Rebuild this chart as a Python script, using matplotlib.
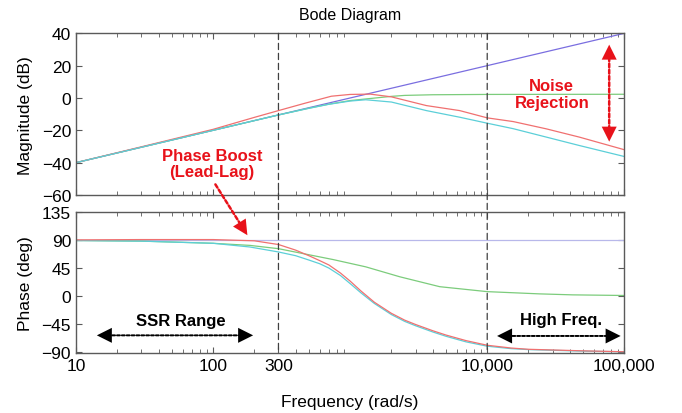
import numpy as np
import matplotlib
matplotlib.use('Agg')
from matplotlib import pyplot as plt
from matplotlib.patches import ConnectionPatch
from matplotlib.ticker import FixedLocator, LogLocator, NullFormatter

plt.rcParams['font.family'] = ['Liberation Sans', 'DejaVu Sans']

# magnitude (dB)
w_blue = [10, 100, 1000, 10000, 100000]
mag_blue = [-40, -20, 0, 20, 40]
w_red_mag = [10, 30, 100, 200, 300, 470, 730, 1000, 1400, 2000, 3600, 6300, 10000, 15500, 27000, 47000, 100000]
mag_red = [-40, -30.2, -19.4, -12.0, -7.8, -3.2, 1.1, 2.2, 2.4, 0.7, -4.7, -7.8, -12.3, -14.6, -19.1, -24.2, -32.0]
w_cyan_mag = [10, 100, 300, 500, 700, 1000, 1300, 2000, 3600, 6300, 10000, 15500, 27000, 47000, 100000]
mag_cyan = [-40, -20, -10.5, -6.4, -3.9, -1.9, -1.1, -2.5, -7.8, -11.9, -15.6, -19.0, -24.2, -29.4, -36.2]
w_green_mag = [10, 100, 300, 500, 700, 1000, 1300, 2000, 2500, 4000, 10000, 100000]
mag_green = [-40, -20, -10.5, -6.3, -3.8, -1.6, -0.6, 1.0, 1.6, 2.0, 2.2, 2.3]

# phase (deg)
w_blue_ph = [10, 100000]
ph_blue = [90, 90]
w_red_ph = [10, 30, 100, 200, 300, 400, 500, 600, 700, 850, 1000, 1200, 1500, 2000, 2500, 3000, 4000,
	5000, 7000, 10000, 15000, 20000, 50000, 100000]
ph_red = [90.5, 91, 91, 89, 83, 74, 65, 57, 50, 37, 24, 8, -10, -28, -39, -46, -56,
	-63, -72, -79.5, -84, -86, -88.5, -90]
w_cyan_ph = [10, 30, 100, 186, 300, 400, 500, 600, 700, 850, 1000, 1200, 1500, 2000, 2500, 3000, 4000,
	5000, 7000, 10000, 15000, 20000, 50000, 100000]
ph_cyan = [89.5, 88.5, 85, 79, 71, 65, 58, 52, 45, 33, 20, 5, -12, -30, -41, -48, -58,
	-65, -74, -81, -85, -86.5, -89, -90]
w_green_ph = [10, 30, 100, 186, 300, 430, 753, 1300, 2300, 4500, 10000, 24000, 42000, 100000]
ph_green = [89.5, 88.5, 85, 81.6, 76.3, 69.4, 58.7, 47, 31, 15, 7, 3.4, 1.8, 0.8]

xticks = [10, 100, 300, 10000, 100000]
xticklabels = ['10', '100', '300', '10,000', '100,000']
mark_freqs = [300, 10000]

c_blue = '#7a6ee0'
c_red = '#f07070'
c_cyan = '#5ccfd8'
c_green = '#7ccc7c'
spine_c = '#5a5a5a'

fig = plt.figure(figsize=(6.82, 4.14), dpi=100)
ax1 = fig.add_axes([0.1114, 0.5266, 0.804, 0.3905])
ax2 = fig.add_axes([0.1114, 0.1449, 0.804, 0.3399])

ax1.plot(w_blue, mag_blue, color=c_blue, lw=0.9)
ax1.plot(w_green_mag, mag_green, color=c_green, lw=0.9)
ax1.plot(w_red_mag, mag_red, color=c_red, lw=0.9)
ax1.plot(w_cyan_mag, mag_cyan, color=c_cyan, lw=0.9)

ax2.plot(w_blue_ph, ph_blue, color='#b8b8ea', lw=0.9)
ax2.plot(w_green_ph, ph_green, color=c_green, lw=0.9)
ax2.plot(w_cyan_ph, ph_cyan, color=c_cyan, lw=0.9)
ax2.plot(w_red_ph, ph_red, color=c_red, lw=0.9)

for ax in (ax1, ax2):
	ax.set_xscale('log')
	ax.set_xlim(10, 100000)
	ax.xaxis.set_major_locator(FixedLocator(xticks))
	ax.xaxis.set_minor_locator(LogLocator(base=10, subs=np.arange(2, 10)))
	ax.xaxis.set_minor_formatter(NullFormatter())
	ax.tick_params(which='both', direction='in', top=True, right=True, color=spine_c, labelsize=12.5)
	ax.tick_params(which='major', length=4)
	ax.tick_params(which='minor', length=3)
	for s in ax.spines.values():
		s.set_color(spine_c)
		s.set_linewidth(1.0)

ax1.set_ylim(-60, 40)
ax1.set_yticks([-60, -40, -20, 0, 20, 40])
ax1.set_xticklabels([])
ax1.set_ylabel('Magnitude (dB)', fontsize=12.5, labelpad=6)
ax1.set_title('Bode Diagram', fontsize=11.5, pad=10)

ax2.set_ylim(-92, 135)
ax2.set_yticks([-90, -45, 0, 45, 90, 135])
ax2.set_xticklabels(xticklabels)
ax2.set_ylabel('Phase (deg)', fontsize=12.5, labelpad=6)
ax2.set_xlabel('Frequency (rad/s)', fontsize=12.5, labelpad=15)

# dashed markers across both panels
for f in mark_freqs:
	con = ConnectionPatch(xyA=(f, 40), coordsA=ax1.transData, xyB=(f, -92), coordsB=ax2.transData,
		color='#404040', lw=0.9, linestyle=(0, (5, 3)))
	fig.add_artist(con)


def dotted_arrow(ax, start, end, color, both=False, lw=1.8):
	ax.annotate('', xy=end, xytext=start, xycoords='data', textcoords='data', annotation_clip=False,
		arrowprops=dict(arrowstyle='-', color=color, lw=lw, linestyle=(0, (1.5, 1)),
			shrinkA=4 if both else 0, shrinkB=4))
	ends = [(start, end)]
	if both:
		ends.append((end, start))
	for a, b in ends:
		ax.annotate('', xy=b, xytext=a, xycoords='data', textcoords='data', annotation_clip=False,
			arrowprops=dict(arrowstyle='-|>,head_length=0.9,head_width=0.45', color=color, lw=0,
				mutation_scale=12, shrinkA=0, shrinkB=0))


red = '#e8121a'
ax1.text(98, -40.5, 'Phase Boost\n(Lead-Lag)', color=red, fontsize=12, fontweight='bold',
	ha='center', va='center', linespacing=1.15)
dotted_arrow(ax2, (104, 180), (178, 98), red)

ax1.text(29600, 2.5, 'Noise\nRejection', color=red, fontsize=12, fontweight='bold',
	ha='center', va='center', linespacing=1.15)
dotted_arrow(ax1, (77600, -27), (77600, 33), red, both=True)

ax2.text(58, -40, 'SSR Range', color='black', fontsize=12, fontweight='bold', ha='center', va='center')
dotted_arrow(ax2, (14.2, -63.5), (196, -63.5), 'black', both=True, lw=1.4)
ax2.text(34500, -37.5, 'High Freq.', color='black', fontsize=12, fontweight='bold', ha='center', va='center')
dotted_arrow(ax2, (11800, -64.5), (94000, -64.5), 'black', both=True, lw=1.4)

fig.savefig('out.png', dpi=100)
